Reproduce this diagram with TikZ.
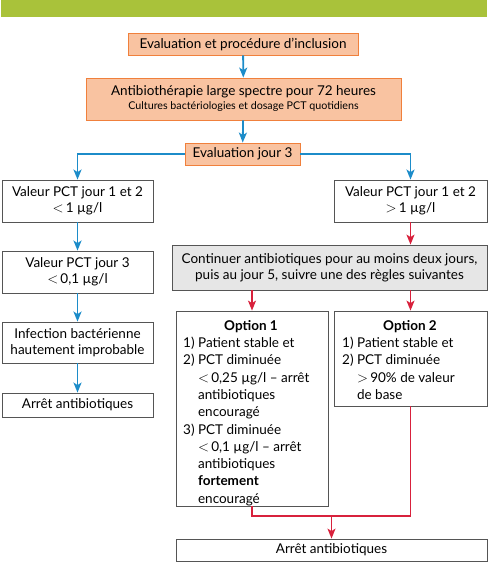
\documentclass[tikz,border=0pt]{standalone}
\usepackage{fontspec}
\setmainfont{Lato}
\usetikzlibrary{arrows.meta,calc}
\definecolor{band}{HTML}{A9C23A}
\definecolor{peach}{HTML}{F9C3A1}
\definecolor{orangeline}{HTML}{F0803C}
\definecolor{bluearrow}{HTML}{1C8CC9}
\definecolor{redarrow}{HTML}{D8213C}
\definecolor{graybox}{HTML}{E6E6E6}
\definecolor{boxline}{HTML}{555555}
\tikzset{
  base/.style={draw=boxline, line width=0.8pt, inner sep=0pt, align=center,
    font=\fontsize{13.5}{16}\selectfont},
  orangebox/.style={base, draw=orangeline, fill=peach},
  whitebox/.style={base, fill=white},
  greybox/.style={base, fill=graybox},
  bluecon/.style={draw=bluearrow, line width=1.8pt, -{Stealth[length=10pt,width=8pt,inset=2.5pt]}},
  redcon/.style={draw=redarrow, line width=1.5pt, -{Stealth[length=10pt,width=8pt,inset=2.5pt]}},
  redlink/.style={draw=redarrow, line width=1.5pt},
  opttext/.style={anchor=base west, inner sep=0pt, align=left, font=\fontsize{13.5}{17.3}\selectfont},
  opthead/.style={anchor=base, inner sep=0pt, font=\fontsize{13.5}{16}\selectfont\bfseries}
}
\begin{document}
\begin{tikzpicture}[x=1pt,y=-1pt]
\useasboundingbox (0,0) rectangle (488,562);
\fill[band] (1,0) rectangle (487,17);

\node[orangebox, minimum width=230pt, minimum height=22pt] (incl) at (243,44) {Evaluation et procédure d’inclusion};
\node[orangebox, minimum width=315pt, minimum height=42pt] (anti) at (243.5,99)
  {Antibiothérapie large spectre pour 72 heures\\[-2pt]{\fontsize{10.7}{12}\selectfont Cultures bactériologies et dosage PCT quotidiens}};
\node[orangebox, minimum width=115pt, minimum height=22pt] (eval) at (242.5,154) {Evaluation jour 3};

\node[whitebox, minimum width=151pt, minimum height=42pt] (lowa) at (77.5,201) {Valeur PCT jour 1 et 2\\$<$\,1 µg/l};
\node[whitebox, minimum width=151pt, minimum height=42pt] (lowb) at (77.5,272) {Valeur PCT jour 3\\$<$\,0,1 µg/l};
\node[whitebox, minimum width=151pt, minimum height=41pt] (infe) at (77.5,342.5) {Infection bactérienne\\hautement improbable};
\node[whitebox, minimum width=151pt, minimum height=24pt] (stopl) at (77.5,405) {Arrêt antibiotiques};

\node[whitebox, minimum width=153pt, minimum height=42pt] (high) at (410.5,201) {Valeur PCT jour 1 et 2\\$>$\,1 µg/l};
\node[greybox, minimum width=315pt, minimum height=45pt] (cont) at (329.5,267.5)
  {Continuer antibiotiques pour au moins deux jours,\\puis au jour 5, suivre une des règles suivantes};

\node[whitebox, minimum width=152pt, minimum height=195pt] (opta) at (252,408.5) {};
\node[whitebox, minimum width=153pt, minimum height=95pt] (optb) at (410.5,358.5) {};
\node[whitebox, minimum width=311pt, minimum height=22pt] (stopr) at (331.5,550) {Arrêt antibiotiques};

\node[opthead] (opta-h) at (251,330) {Option 1};
\node[opthead] (optb-h) at (410,330) {Option 2};
\node[opttext] (opta-t) at (183,347.5) {%
  \begin{tabular}[t]{@{}l@{\ }l@{}}
  1) & Patient stable et\\
  2) & PCT diminuée\\
     & $<$\,0,25 µg/l – arrêt\\
     & antibiotiques\\
     & encouragé\\
  3) & PCT diminuée\\
     & $<$\,0,1 µg/l – arrêt\\
     & antibiotiques\\
     & \textbf{fortement}\\
     & encouragé
  \end{tabular}};
\node[opttext] (optb-t) at (342,347.5) {%
  \begin{tabular}[t]{@{}l@{\ }l@{}}
  1) & Patient stable et\\
  2) & PCT diminuée\\
     & $>$\,90\% de valeur\\
     & de base
  \end{tabular}};

\coordinate (join) at (331.5,516);

\draw[bluecon] (incl) -- (anti);
\draw[bluecon] (anti) -- (eval);
\draw[bluecon] (eval.west) -| (lowa.north);
\draw[bluecon] (eval.east) -| (high.north);
\draw[bluecon] (lowa) -- (lowb);
\draw[bluecon] (lowb) -- (infe);
\draw[bluecon] (infe) -- (stopl);

\draw[redcon] (high) -- (high |- cont.north);
\draw[redcon] (cont.south -| opta.north) -- (opta.north);
\draw[redcon] (cont.south -| optb.north) -- (optb.north);
\draw[redlink] (opta.south) |- (join);
\draw[redlink] (optb.south) |- (join);
\draw[redcon] (join) -- (stopr.north);
\end{tikzpicture}
\end{document}
